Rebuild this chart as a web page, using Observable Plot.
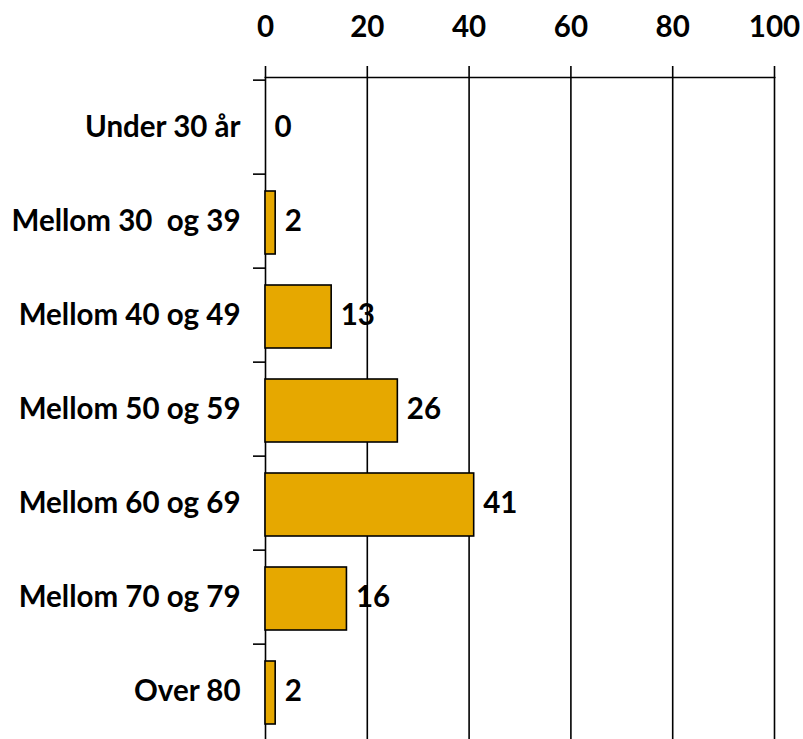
<!DOCTYPE html>
<html>
<head>
<meta charset="utf-8">
<script src="https://cdn.jsdelivr.net/npm/d3@7"></script>
<script src="https://cdn.jsdelivr.net/npm/@observablehq/plot@0.6"></script>
<style>
  html, body { margin: 0; padding: 0; background: #ffffff; }
</style>
</head>
<body>
<div id="chart"></div>
<script>
const categories = ["Under 30 år", "Mellom 30  og 39", "Mellom 40 og 49", "Mellom 50 og 59", "Mellom 60 og 69", "Mellom 70 og 79", "Over 80"];
const values = [0, 2, 13, 26, 41, 16, 2];
const xTicks = [0, 20, 40, 60, 80, 100];

const data = categories.map((c, i) => ({category: c, value: values[i]}));

const W = 803, H = 740;
const mTop = 77, mBottom = 0, mLeft = 265, mRight = 29;
const step = (H - mTop - mBottom) / categories.length;
const FS = 29.5;

const chart = Plot.plot({
  width: W,
  height: H,
  marginTop: mTop,
  marginBottom: mBottom,
  marginLeft: mLeft,
  marginRight: mRight,
  style: {fontFamily: "Lato, sans-serif", fontSize: FS + "px", fontWeight: "bold", color: "black", background: "white"},
  x: {domain: [0, 100]},
  y: {domain: categories, padding: 0},
  marks: [
    Plot.ruleX(xTicks, {stroke: "black", strokeWidth: 1.6, strokeOpacity: 1}),
    Plot.frame({anchor: "top", stroke: "black", strokeWidth: 1.6}),
    Plot.axisX({anchor: "top", ticks: xTicks, tickSize: 12, tickPadding: 29, label: null, stroke: "black", strokeWidth: 1.6, fontSize: FS, fontWeight: "bold"}),
    Plot.axisY({anchor: "left", tickSize: 0, tickPadding: 25, label: null, fontSize: FS, fontWeight: "bold"}),
    Plot.axisY({anchor: "left", tickSize: 12, tickFormat: () => "", dy: -step / 2, label: null, stroke: "black", strokeWidth: 1.6}),
    Plot.barX(data, {x: "value", y: "category", fill: "#E6A800", stroke: "black", strokeWidth: 1.6, insetTop: 15.5, insetBottom: 15.5, dy: 1.5}),
    Plot.text(data, {x: "value", y: "category", text: d => String(d.value), textAnchor: "start", dx: 9, fontSize: FS, fontWeight: "bold", fill: "black"})
  ]
});
document.getElementById("chart").appendChild(chart);
</script>
</body>
</html>
